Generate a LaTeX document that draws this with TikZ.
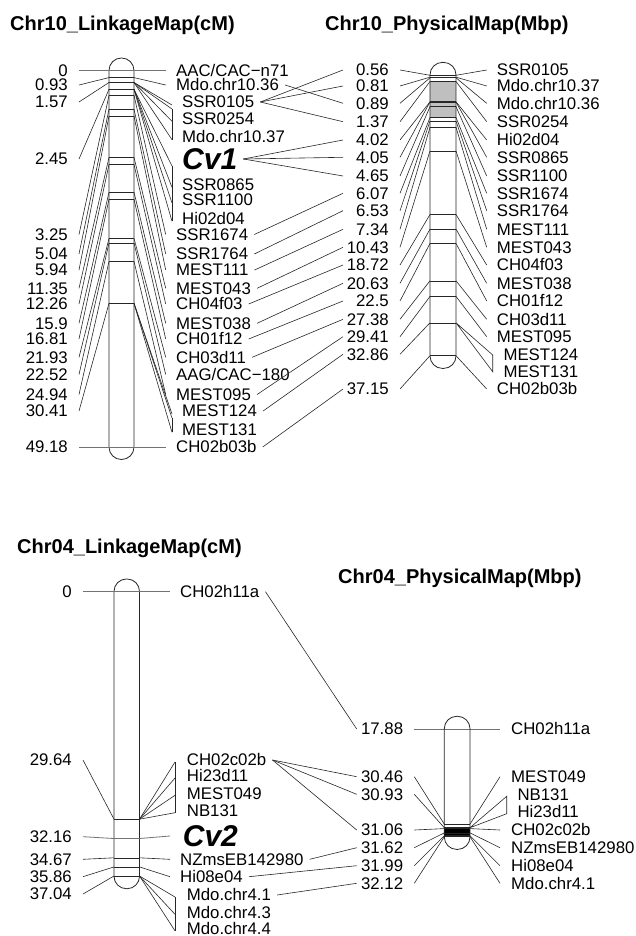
\documentclass[tikz,border=0pt]{standalone}
\usepackage{fontspec}
\setmainfont{Liberation Sans}
\usepackage{tikz}

\newcommand{\labfont}{\fontsize{16.8}{18}\selectfont}
\newcommand{\headfont}{\bfseries\fontsize{20}{22}\selectfont}
\newcommand{\qtlfont}{\bfseries\itshape\fontsize{30}{32}\selectfont}

\begin{document}
\begin{tikzpicture}[x=1pt,y=-1pt,
  chrom/.style={draw=black!85,line width=0.8pt,rounded corners=12.4pt},
  tick/.style={draw=black!85,line width=0.6pt},
  link/.style={draw=black!85,line width=0.6pt},
  flat/.style={draw=black!55,line width=0.8pt},
  num/.style={anchor=east,inner sep=0pt,text height=11.8pt,text depth=0pt,font=\labfont},
  lab/.style={anchor=west,inner sep=0pt,text height=11.8pt,text depth=0pt,font=\labfont},
  qtl/.style={anchor=west,inner sep=0pt,text height=21.5pt,text depth=0pt,font=\qtlfont},
  head/.style={anchor=west,inner sep=0pt,text height=14.3pt,text depth=0pt,font=\headfont}]
  \useasboundingbox (0,0) rectangle (636,936);
  \coordinate (cxa) at (343,0);
  \coordinate (cxb) at (356.7,0);

  % titles
  \node[head] (h10k) at (10,23) {Chr10\_LinkageMap(cM)};
  \node[head] (h10p) at (325,23) {Chr10\_PhysicalMap(Mbp)};
  \node[head] (h04k) at (17,546) {Chr04\_LinkageMap(cM)};
  \node[head] (h04p) at (338,576) {Chr04\_PhysicalMap(Mbp)};

  % Chr10 linkage map
  \draw[chrom] (109,58) rectangle (134,459.5);
  \foreach \i/\p/\l/\v/\s in {a/70.5/70.5/0/flat,b/77.6/85/0.93/link,c/82.5/102/1.57/link,
      d/89.3/159/2.45/link,e/95.4/234.5/3.25/link,f/109.1/254/5.04/link,g/116/270/5.94/link,
      h/157.4/288.3/11.35/link,i/164.4/304/12.26/link,j/192.2/323.3/15.9/link,
      k/199.2/339/16.81/link,l/238.4/357.3/21.93/link,m/242.9/374.5/22.52/link,
      n/261.4/394.5/24.94/link,o/303.3/411/30.41/link,p/447/447/49.18/flat}{
    \coordinate (kaL\i) at (109,\p);
    \coordinate (kaR\i) at (134,\p);
    \node[num] (kaN\i) at (68,\l) {\v};
    \draw[\s] (kaL\i) -- (kaR\i);
    \draw[\s] ([xshift=11]kaN\i.east) -- (kaL\i);
  }
  \foreach \i/\l/\m/\t/\s in {a/70.5/aac/AAC\slash CAC−n71/flat,b/85/mdo36/Mdo.chr10.36/link,
      e/234.5/ssr1674/SSR1674/link,f/254/ssr1764/SSR1764/link,g/270/mest111/MEST111/link,
      h/288.3/mest043/MEST043/link,i/304/ch04f03/CH04f03/link,j/323.3/mest038/MEST038/link,
      k/339/ch01f12/CH01f12/link,l/357.3/ch03d11/CH03d11/link,m/374.5/aag/AAG\slash CAC−180/link,
      n/394.5/mest095/MEST095/link,p/447/ch02b03b/CH02b03b/flat}{
    \node[lab] (ka-\m) at (176,\l) {\t};
    \draw[\s] (kaR\i) -- ([xshift=-10.3]ka-\m.west);
  }
  \node[qtl] (ka-cv1) at (182,159) {Cv1};
  \foreach \i/\l/\m/\t in {c/102/ssr0105/SSR0105,c/118.3/ssr0254/SSR0254,c/136.7/mdo37/Mdo.chr10.37,
      d/184.3/ssr0865/SSR0865,d/200/ssr1100/SSR1100,d/218.3/hi02d04/Hi02d04,
      o/411/mest124/MEST124,o/429.3/mest131/MEST131}{
    \node[lab] (ka-\m) at (182,\l) {\t};
    \draw[link] (kaR\i) -- ([xshift=-10,yshift=-3]ka-\m.west);
  }
  \foreach \i/\m in {c/ssr0105,d/cv1,o/mest124}
    \draw[link] (kaR\i) -- ([xshift=-10,yshift=-7]ka-\m.west);
  \draw[link] ([xshift=-10,yshift=-7]ka-ssr0105.west) -- ([xshift=-10,yshift=-3]ka-mdo37.west);
  \draw[link] ([xshift=-10,yshift=-7]ka-cv1.west) -- ([xshift=-10,yshift=-3]ka-hi02d04.west);
  \draw[link] ([xshift=-10,yshift=-7]ka-mest124.west) -- ([xshift=-10,yshift=-3]ka-mest131.west);

  % Chr10 physical map
  \fill[black!25] (430,81.5) rectangle (456,117.5);
  \foreach \i/\p/\l/\v/\m/\t in {A/75.3/70/0.56/ssr0105/SSR0105,B/77.2/86/0.81/mdo37/Mdo.chr10.37,
      C/77.8/103.3/0.89/mdo36/Mdo.chr10.36,D/81.5/121.7/1.37/ssr0254/SSR0254,
      E/101.8/140/4.02/hi02d04/Hi02d04,F/102/157.3/4.05/ssr0865/SSR0865,
      G/106.6/176/4.65/ssr1100/SSR1100,H/117.5/193.3/6.07/ssr1674/SSR1674,
      I/121/210.7/6.53/ssr1764/SSR1764,J/127.3/229.3/7.34/mest111/MEST111,
      K/150.9/247.3/10.43/mest043/MEST043,L/214.5/265/18.72/ch04f03/CH04f03,
      M/229.1/283.3/20.63/mest038/MEST038,N/243.4/301/22.5/ch01f12/CH01f12,
      O/280.8/319.3/27.38/ch03d11/CH03d11,P/296.4/336.7/29.41/mest095/MEST095,
      R/355.7/389/37.15/ch02b03b/CH02b03b}{
    \coordinate (pbL\i) at (430,\p);
    \coordinate (pbR\i) at (456,\p);
    \node[num] (pbN\i) at (389,\l) {\v};
    \node[lab] (pb-\m) at (496.7,\l) {\t};
    \draw[tick] (pbL\i) -- (pbR\i);
    \draw[link] ([xshift=11]pbN\i.east) -- (pbL\i);
    \draw[link] (pbR\i) -- ([xshift=-10]pb-\m.west);
  }
  \coordinate (pbLQ) at (430,322.8);
  \coordinate (pbRQ) at (456,322.8);
  \node[num] (pbNQ) at (389,354.3) {32.86};
  \node[lab] (pb-mest124) at (503.3,355) {MEST124};
  \node[lab] (pb-mest131) at (503.3,371.7) {MEST131};
  \draw[tick] (pbLQ) -- (pbRQ);
  \draw[link] ([xshift=11]pbNQ.east) -- (pbLQ);
  \draw[link] (pbRQ) -- ([xshift=-10.6]pb-mest124.west) -- ([xshift=-10.6]pb-mest131.west) -- (pbRQ);
  \draw[chrom] (430,62.4) rectangle (456,368.4);

  % Chr10 linkage -> physical
  \draw[link] ([xshift=6]ka-mdo36.east) -- (pbNC.west -| cxa);
  \foreach \j in {A,B,D} \draw[link] ([xshift=6]ka-ssr0105.east) -- (pbN\j.west -| cxa);
  \foreach \j in {E,F,G} \draw[link] ([xshift=6]ka-cv1.east) -- (pbN\j.west -| cxa);
  \foreach \m/\j in {ssr1674/H,ssr1764/I,mest111/J,mest043/K,ch04f03/L,mest038/M,
      ch01f12/N,ch03d11/O,mest095/P,mest124/Q,ch02b03b/R}
    \draw[link] ([xshift=6]ka-\m.east) -- (pbN\j.west -| cxa);

  % Chr04 linkage map
  \draw[chrom] (114,579) rectangle (139.5,888.7);
  \foreach \i/\p/\l/\v/\s in {a/591.7/591.7/0/flat,b/819.2/760/29.64/link,c/838.5/836.7/32.16/flat,
      d/857.8/859.3/34.67/link,e/866.9/876.7/35.86/link,f/876/894/37.04/link}{
    \coordinate (qaL\i) at (114,\p);
    \coordinate (qaR\i) at (139.5,\p);
    \node[num] (qaN\i) at (72,\l) {\v};
    \draw[\s] (qaL\i) -- (qaR\i);
    \draw[\s] ([xshift=11]qaN\i.east) -- (qaL\i);
  }
  \foreach \i/\l/\m/\t/\s in {a/591.7/ch02h11a/CH02h11a/flat,d/859.3/nzms/NZmsEB142980/link,
      e/876.7/hi08e04/Hi08e04/link}{
    \node[lab] (qa-\m) at (180,\l) {\t};
    \draw[\s] (qaR\i) -- ([xshift=-10]qa-\m.west);
  }
  \node[qtl] (qa-cv2) at (182.7,836) {Cv2};
  \draw[flat] (qaRc) -- ([xshift=-12.7]qa-cv2.west);
  \foreach \i/\l/\m/\t in {b/760/ch02c02b/CH02c02b,b/776/hi23d11/Hi23d11,b/793.3/mest049/MEST049,
      b/810.7/nb131/NB131,f/895/mdo41/Mdo.chr4.1,f/912.3/mdo43/Mdo.chr4.3,f/928.8/mdo44/Mdo.chr4.4}{
    \node[lab] (qa-\m) at (186.7,\l) {\t};
    \draw[link] (qaR\i) -- ([xshift=-11.7,yshift=-2]qa-\m.west);
  }
  \draw[link] ([xshift=-11.7,yshift=-2]qa-ch02c02b.west) -- ([xshift=-11.7,yshift=-2]qa-nb131.west);
  \draw[link] ([xshift=-11.7,yshift=-2]qa-mdo41.west) -- ([xshift=-11.7,yshift=-2]qa-mdo44.west);

  % Chr04 physical map
  \fill[black] (444.3,828.3) rectangle (470,835);
  \foreach \i/\p/\l/\v/\m/\t/\s in {A/729/729/17.88/ch02h11a/CH02h11a/flat,
      B/824.1/776.7/30.46/mest049/MEST049/link,D/828.6/830/31.06/ch02c02b/CH02c02b/link,
      E/832.9/847.7/31.62/nzms/NZmsEB142980/link,F/835.7/865.7/31.99/hi08e04/Hi08e04/link,
      G/836.7/883.3/32.12/mdo41/Mdo.chr4.1/link}{
    \coordinate (qbL\i) at (444.3,\p);
    \coordinate (qbR\i) at (470,\p);
    \node[num] (qbN\i) at (403.3,\l) {\v};
    \node[lab] (qb-\m) at (511,\l) {\t};
    \draw[\s] (qbL\i) -- (qbR\i);
    \draw[\s] ([xshift=11]qbN\i.east) -- (qbL\i);
    \draw[\s] (qbR\i) -- ([xshift=-11]qb-\m.west);
  }
  \coordinate (qbLC) at (444.3,827.7);
  \coordinate (qbRC) at (470,827.7);
  \node[num] (qbNC) at (403.3,794.3) {30.93};
  \node[lab] (qb-nb131) at (517.3,794.3) {NB131};
  \node[lab] (qb-hi23d11) at (517.3,811.7) {Hi23d11};
  \draw[tick] (qbLC) -- (qbRC);
  \draw[link] ([xshift=11]qbNC.east) -- (qbLC);
  \draw[link] (qbRC) -- ([xshift=-10.6,yshift=-2]qb-nb131.west) -- ([xshift=-10.6,yshift=-2]qb-hi23d11.west) -- (qbRC);
  \draw[chrom] (444.3,716.3) rectangle (470,849.4);

  % Chr04 linkage -> physical
  \draw[link] ([xshift=6]qa-ch02h11a.east) -- (qbNA.west -| cxb);
  \foreach \j in {B,C,D} \draw[link] ([xshift=6]qa-ch02c02b.east) -- (qbN\j.west -| cxb);
  \foreach \m/\j in {nzms/E,hi08e04/F,mdo41/G}
    \draw[link] ([xshift=6]qa-\m.east) -- (qbN\j.west -| cxb);
\end{tikzpicture}
\end{document}
